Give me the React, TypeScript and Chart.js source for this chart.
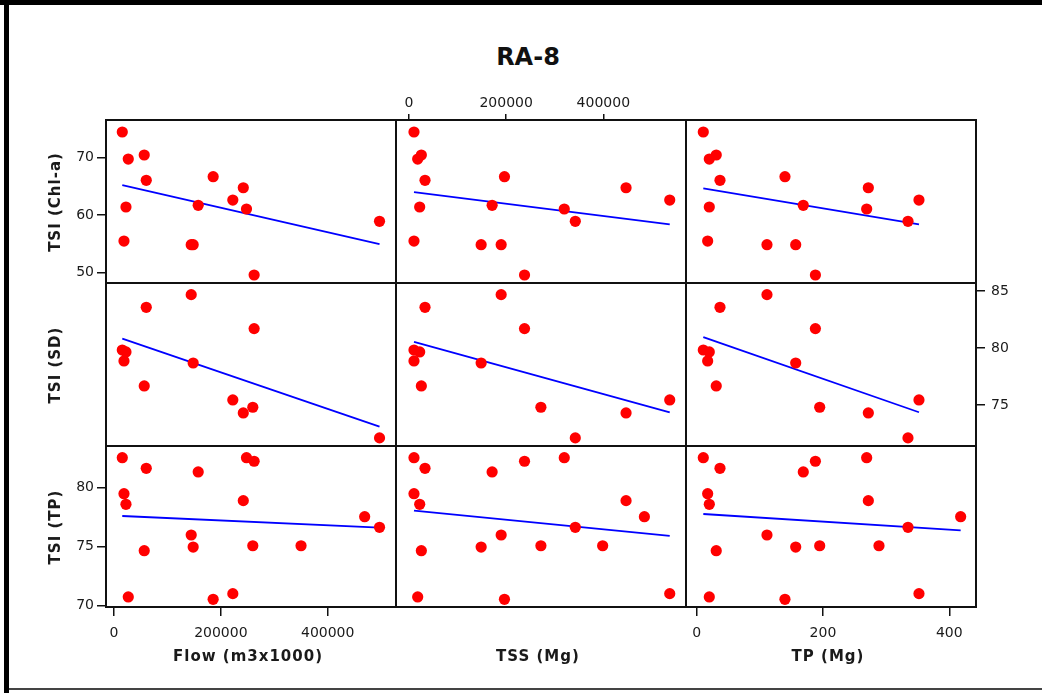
import React, { useEffect, useRef } from "react";
import { Chart, registerables } from "chart.js";

Chart.register(...registerables);

// ---- Data (one entry per observation) ----
const flow = [15500, 60400, 157600, 248000, 262300, 18700, 22400, 242000, 469200, 497000, 144500, 148200, 259800, 350100, 56600, 26700, 185600, 222400];
const tss = [10300, 33000, 171100, 319600, 237800, 10300, 22000, 446800, 484500, 342300, 189700, 148500, 271500, 398600, 25400, 17900, 196500, 536700];
const tp = [10.5, 36.9, 168.8, 269.2, 188.0, 17.4, 20.0, 271.8, 418.0, 334.6, 111.3, 156.8, 194.8, 288.7, 31.0, 20.0, 139.8, 352.0];
const tsiChl = [74.47, 66.07, 61.72, 61.08, 49.6, 55.51, 61.43, 64.78, null, 58.94, 54.87, 54.87, null, null, 70.47, 69.77, 66.7, 62.64];
const tsiSD = [79.82, 83.57, null, null, 81.7, 78.86, 79.65, 74.3, null, 72.11, 84.68, 78.68, 74.8, null, 76.67, null, null, 75.44];
const tsiTP = [82.54, 81.64, 81.33, 82.54, 82.24, 79.49, 78.59, 78.9, 77.54, 76.64, 75.99, 74.97, 75.08, 75.08, 74.66, 70.74, 70.54, 71.02];

// Fitted lines (endpoints): [x0, y0, x1, y1]
const fitChlFlow = [15500, 65.25, 497000, 54.99];
const fitChlTss = [10300, 64.03, 536700, 58.42];
const fitChlTp = [10.5, 64.68, 352, 58.42];
const fitSdFlow = [15500, 80.82, 497000, 73.1];
const fitSdTss = [10300, 80.53, 536700, 74.36];
const fitSdTp = [10.5, 80.96, 352, 74.36];
const fitTpFlow = [15500, 77.6, 497000, 76.62];
const fitTpTss = [10300, 78.05, 536700, 75.91];
const fitTpTp = [10.5, 77.77, 418, 76.39];

// Axis labels / ticks
const title = "RA-8";
const xTitles = ["Flow (m3x1000)", "TSS (Mg)", "TP (Mg)"];
const yTitles = ["TSI (Chl-a)", "TSI (SD)", "TSI (TP)"];
const flowTicks = [0, 200000, 400000];
const tssTicks = [0, 200000, 400000];
const tpTicks = [0, 200, 400];
const chlTicks = [50, 60, 70];
const sdTicks = [75, 80, 85];
const tpTsiTicks = [70, 75, 80];

const xCols = [flow, tss, tp];
const yRows = [tsiChl, tsiSD, tsiTP];
const fits = [
  [fitChlFlow, fitChlTss, fitChlTp],
  [fitSdFlow, fitSdTss, fitSdTp],
  [fitTpFlow, fitTpTss, fitTpTp],
];

const colAxes = [
  { min: -14975, max: 527845, ticks: flowTicks, pos: "bottom", showRow: 2 },
  { min: -26750, max: 570170, ticks: tssTicks, pos: "top", showRow: 0 },
  { min: -16.9, max: 442.3, ticks: tpTicks, pos: "bottom", showRow: 2 },
];
const rowAxes = [
  { min: 48.21, max: 76.56, ticks: chlTicks, pos: "left", showCol: 0 },
  { min: 71.4, max: 85.7, ticks: sdTicks, pos: "right", showCol: 2 },
  { min: 69.89, max: 83.53, ticks: tpTsiTicks, pos: "left", showCol: 0 },
];

const colEdges = [106, 396, 686, 976];
const rowEdges = [120, 283, 446, 607];
const M = 80;
const FONT = "'DejaVu Sans', Verdana, sans-serif";

const boxPlugin = {
  id: "panelBox",
  afterDraw(chart: any) {
    const { ctx, chartArea } = chart;
    ctx.save();
    ctx.strokeStyle = "#111";
    ctx.lineWidth = 2;
    ctx.strokeRect(chartArea.left, chartArea.top, chartArea.right - chartArea.left, chartArea.bottom - chartArea.top);
    ctx.restore();
  },
};

function Panel({ r, c }: { r: number; c: number }) {
  const ref = useRef<HTMLCanvasElement | null>(null);
  const w = colEdges[c + 1] - colEdges[c] + 2 * M;
  const h = rowEdges[r + 1] - rowEdges[r] + 2 * M;
  useEffect(() => {
    if (!ref.current) return;
    const xs = xCols[c];
    const ys = yRows[r];
    const pts: { x: number; y: number }[] = [];
    xs.forEach((xv, i) => {
      const yv = ys[i];
      if (yv !== null && yv !== undefined) pts.push({ x: xv, y: yv as number });
    });
    const f = fits[r][c];
    const ca = colAxes[c];
    const ra = rowAxes[r];
    const showX = ca.showRow === r;
    const showY = ra.showCol === c;
    const isTop = ca.pos === "top";
    const chart = new Chart(ref.current, {
      type: "scatter",
      data: {
        datasets: [
          {
            data: pts,
            backgroundColor: "#ff0000",
            borderColor: "#ff0000",
            borderWidth: 0,
            pointRadius: 5.6,
            showLine: false,
          },
          {
            data: [
              { x: f[0], y: f[1] },
              { x: f[2], y: f[3] },
            ],
            borderColor: "#0000ff",
            backgroundColor: "#0000ff",
            borderWidth: 1.8,
            pointRadius: 0,
            showLine: true,
          },
        ],
      },
      options: {
        responsive: false,
        animation: false,
        devicePixelRatio: 1,
        layout: {
          padding: {
            top: isTop ? 0 : M,
            bottom: ca.pos === "bottom" ? 0 : M,
            left: ra.pos === "left" ? 0 : M,
            right: ra.pos === "right" ? 0 : M,
          },
        },
        plugins: { legend: { display: false }, tooltip: { enabled: false }, title: { display: false } },
        scales: {
          x: {
            type: "linear",
            position: ca.pos as any,
            min: ca.min,
            max: ca.max,
            border: { display: false },
            grid: { display: showX, drawOnChartArea: false, drawTicks: true, tickLength: isTop ? 6 : 9, color: "#111", lineWidth: 1.5 },
            ticks: {
              display: showX,
              autoSkip: false,
              maxRotation: 0,
              padding: isTop ? 2 : 9,
              color: "#1a1a1a",
              font: { family: FONT, size: 14 },
              callback: (v: any) => String(v),
            },
            afterBuildTicks: (s: any) => {
              s.ticks = ca.ticks.map((v) => ({ value: v }));
            },
            afterFit: (s: any) => {
              s.height = M;
            },
          },
          y: {
            type: "linear",
            position: ra.pos as any,
            min: ra.min,
            max: ra.max,
            border: { display: false },
            grid: { display: showY, drawOnChartArea: false, drawTicks: true, tickLength: 9, color: "#111", lineWidth: 1.5 },
            ticks: {
              display: showY,
              autoSkip: false,
              padding: ra.pos === "right" ? 6 : 3,
              color: "#1a1a1a",
              font: { family: FONT, size: 14 },
              callback: (v: any) => String(v),
            },
            afterBuildTicks: (s: any) => {
              s.ticks = ra.ticks.map((v) => ({ value: v }));
            },
            afterFit: (s: any) => {
              s.width = M;
            },
          },
        },
      },
      plugins: [boxPlugin],
    });
    return () => chart.destroy();
  }, [r, c]);
  return (
    <canvas
      ref={ref}
      width={w}
      height={h}
      style={{ position: "absolute", left: colEdges[c] - M, top: rowEdges[r] - M, width: w, height: h }}
    />
  );
}

export default function App() {
  const panels = [];
  for (let r = 0; r < 3; r++) for (let c = 0; c < 3; c++) panels.push(<Panel key={`${r}-${c}`} r={r} c={c} />);
  const xTitleCenters = [248, 538, 828];
  return (
    <div style={{ position: "fixed", left: 0, top: 0, width: 1042, height: 693, background: "#fff", overflow: "hidden", fontFamily: FONT }}>
      <div style={{ position: "absolute", left: 0, top: 0, width: 1042, height: 5, background: "#000" }} />
      <div style={{ position: "absolute", left: 4, top: 0, width: 5, height: 693, background: "#000" }} />
      <div style={{ position: "absolute", left: 9, top: 688, width: 1033, height: 2, background: "#444" }} />
      <div style={{ position: "absolute", left: 528, top: 57, transform: "translate(-50%, -50%)", fontWeight: "bold", fontSize: 24, color: "#111", whiteSpace: "nowrap" }}>{title}</div>
      {panels}
      {xTitles.map((t, i) => (
        <div key={t} style={{ position: "absolute", left: xTitleCenters[i], top: 656, transform: "translate(-50%, -50%)", fontWeight: "bold", fontSize: 15, letterSpacing: 1, color: "#1a1a1a", whiteSpace: "nowrap" }}>{t}</div>
      ))}
      {yTitles.map((t, i) => (
        <div key={t} style={{ position: "absolute", left: 55, top: (rowEdges[i] + rowEdges[i + 1]) / 2, transform: "translate(-50%, -50%) rotate(-90deg)", fontWeight: "bold", fontSize: 15, letterSpacing: 1, color: "#1a1a1a", whiteSpace: "nowrap" }}>{t}</div>
      ))}
    </div>
  );
}
